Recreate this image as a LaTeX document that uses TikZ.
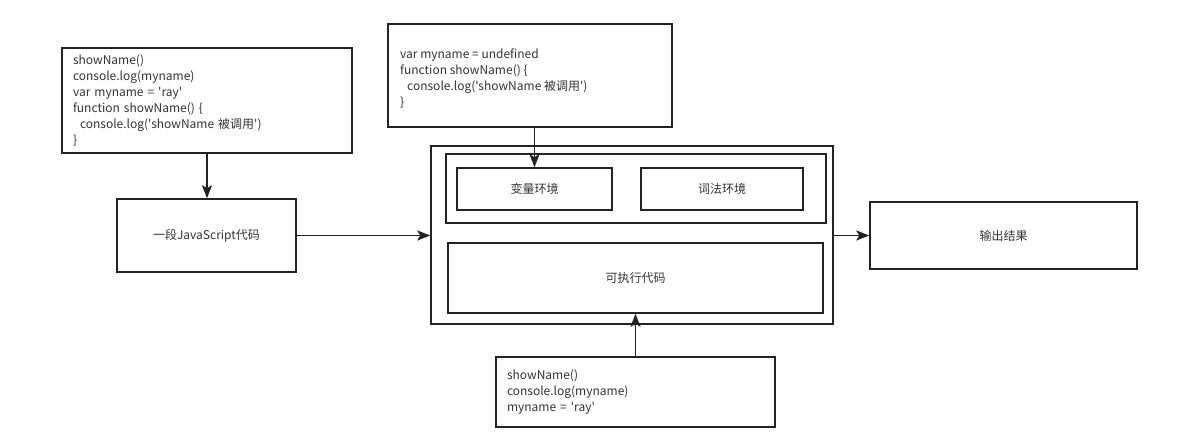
\documentclass[tikz,border=0pt]{standalone}
\usepackage{fontspec}
\newfontfamily\cjk{Noto Sans CJK SC}
\usetikzlibrary{arrows.meta}
\definecolor{ln}{HTML}{222222}
\definecolor{tx}{HTML}{333333}
\newcommand{\sq}{\char"0027\relax}
\newcommand{\ind}{\hspace*{7pt}}
\begin{document}
\begin{tikzpicture}[x=1pt,y=-1pt,
  box/.style={draw=ln,line width=1.5pt,fill=white,rectangle,inner sep=0pt,
    font=\cjk\fontsize{12}{16}\selectfont,text=tx},
  codebox/.style={box,align=left,inner xsep=11pt},
  codetext/.style={inner sep=0pt,align=left,font=\cjk\fontsize{12}{16}\selectfont,text=tx},
  arr/.style={draw=ln,line width=1.8pt,-{Stealth[length=13pt,width=10pt,inset=3pt]}}]
\useasboundingbox[fill=white] (0,0) rectangle (1178,444);
% outer container
\node[box,minimum width=402pt,minimum height=178pt] (outer) at (632,235) {};
\node[box,minimum width=380pt,minimum height=69pt] (env) at (636,188.5) {};
\node[box,minimum width=155pt,minimum height=42pt] (var) at (534.5,189) {变量环境};
\node[box,minimum width=162pt,minimum height=42pt] (lex) at (722,189) {词法环境};
\node[box,minimum width=375pt,minimum height=70pt] (exec) at (635.5,278) {可执行代码};
% left
\node[codebox,text width=268pt,minimum height=105pt] (A) at (207,100.5) {showName()\\
console.log(myname)\\
var myname = \sq ray\sq\\
function showName() \{\\
\ind console.log(\sq showName 被调用\sq)\\
\}};
\node[box,minimum width=179pt,minimum height=73pt] (js) at (206.5,235.5) {一段JavaScript代码};
% top
\node[box,minimum width=284pt,minimum height=103pt] (B) at (530,75.5) {};
\node[codetext,anchor=west] (Btext) at (400,78.5) {var myname = undefined\\
function showName() \{\\
\ind console.log(\sq showName 被调用\sq)\\
\}};
% bottom
\node[codebox,text width=257pt,minimum height=70pt] (C) at (635.5,392) {showName()\\
console.log(myname)\\
myname = \sq ray\sq};
% output
\node[box,minimum width=267pt,minimum height=67pt] (out) at (1003.5,235.5) {输出结果};
% arrows
\draw[arr] (A.south) -- (A.south |- js.north);
\draw[arr] (js.east) -- (js.east -| outer.west);
\draw[arr] (var.north |- B.south) -- (var.north);
\draw[arr] (C.north) -- (C.north |- exec.south);
\draw[arr] (outer.east |- out.west) -- (out.west);
\end{tikzpicture}
\end{document}
